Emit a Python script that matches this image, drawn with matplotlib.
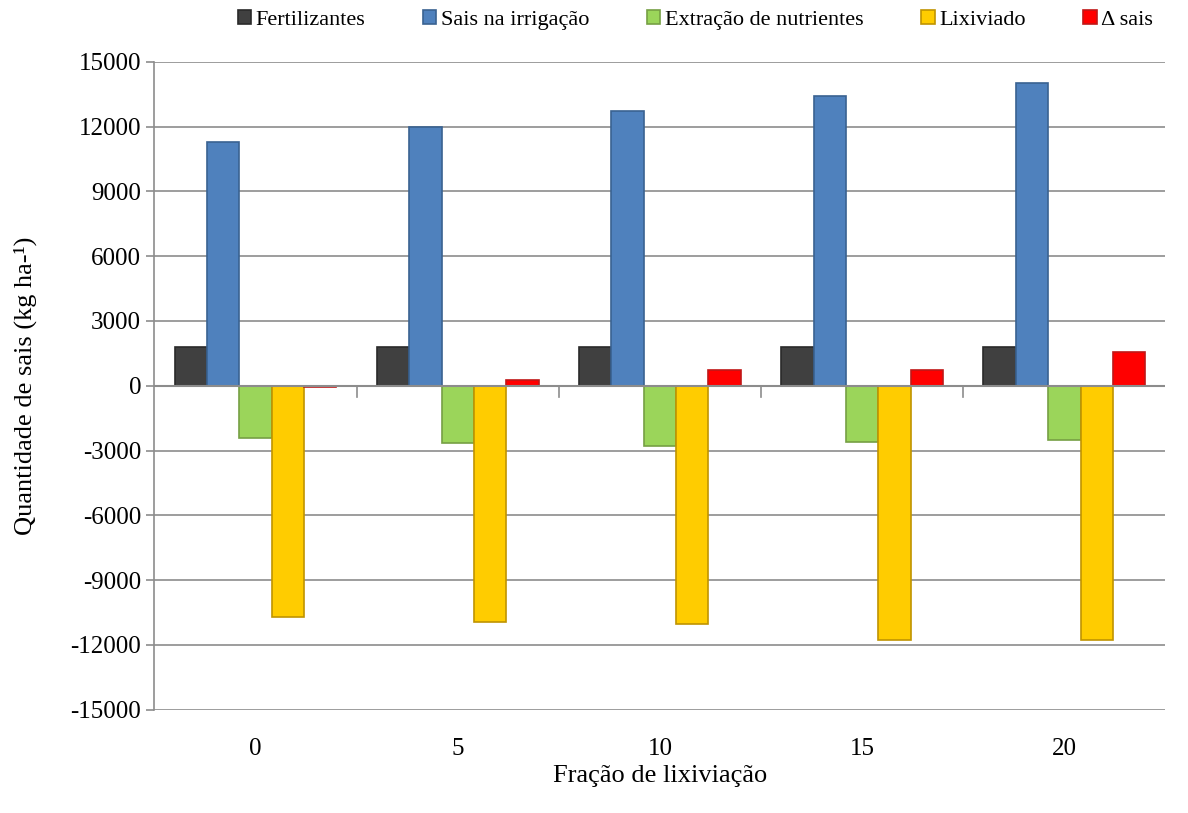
import matplotlib
matplotlib.use('Agg')
import matplotlib.pyplot as plt
import numpy as np

plt.rcParams['font.family'] = ['Liberation Serif', 'DejaVu Serif']
plt.rcParams['axes.unicode_minus'] = False

# data
fracoes = ['0', '5', '10', '15', '20']
fertilizantes = [1800, 1800, 1800, 1800, 1800]
sais_irrigacao = [11300, 12000, 12700, 13400, 14000]
extracao = [-2400, -2650, -2780, -2600, -2500]
lixiviado = [-10700, -10930, -11020, -11760, -11760]
delta_sais = [-50, 250, 750, 750, 1550]

series = [
    ('Fertilizantes', fertilizantes, '#404040', '#2a2a2a'),
    ('Sais na irrigação', sais_irrigacao, '#4f81bd', '#3a6291'),
    ('Extração de nutrientes', extracao, '#9bd55a', '#76a044'),
    ('Lixiviado', lixiviado, '#ffcc00', '#c09400'),
    ('Δ sais', delta_sais, '#ff0000', '#c01818'),
]

fig = plt.figure(figsize=(11.88, 8.13), dpi=100)
ax = fig.add_axes([0.130, 0.127, 0.851, 0.797])

x = np.arange(len(fracoes))
w = 0.16
for k, (name, vals, fc, ec) in enumerate(series):
    ax.bar(x + (k - 2) * w, vals, w, color=fc, edgecolor=ec, linewidth=1.2,
           label=name, zorder=3)

ax.set_ylim(-15000, 15000)
ax.set_yticks(np.arange(-15000, 15001, 3000))
ax.set_xlim(-0.5, 4.5)
ax.grid(axis='y', color='#8c8c8c', linewidth=1.2, zorder=0)
ax.set_axisbelow(True)

for s in ['top', 'right', 'bottom']:
    ax.spines[s].set_visible(False)
ax.spines['left'].set_color('#8c8c8c')
ax.spines['left'].set_linewidth(1.2)
ax.axhline(0, color='#8c8c8c', linewidth=1.5, zorder=4)

# category labels with separators on the zero line
ax.set_xticks(x)
ax.set_xticklabels(fracoes, fontsize=18)
ax.tick_params(axis='x', length=0, pad=20)
for b in np.arange(0.5, 4.5, 1.0):
    ax.plot([b, b], [0, -500], color='#8c8c8c', linewidth=1.2, zorder=4,
            clip_on=False)
ax.tick_params(axis='y', labelsize=18, color='#8c8c8c', length=6, width=1.2)

ax.set_xlabel('Fração de lixiviação', fontsize=19, labelpad=4)
ax.set_ylabel('Quantidade de sais (kg ha-¹)', fontsize=19, labelpad=24)

ax.legend(loc='lower center', bbox_to_anchor=(0.535, 1.025), ncol=5, frameon=False,
          fontsize=16, handlelength=0.6, handleheight=0.6, handletextpad=0.2,
          columnspacing=2.6, borderaxespad=0.3)

fig.savefig('out.png', dpi=100, facecolor='white')
